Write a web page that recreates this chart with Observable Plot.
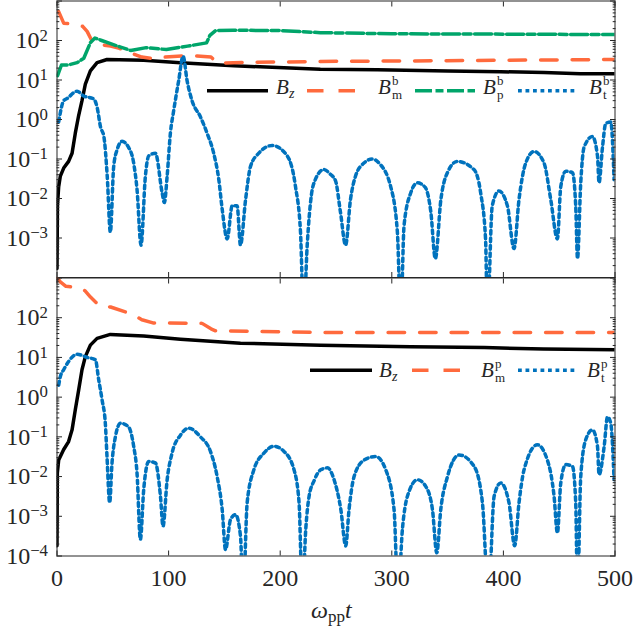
<!DOCTYPE html>
<html><head><meta charset="utf-8">
<script src="https://cdn.jsdelivr.net/npm/d3@7"></script>
<script src="https://cdn.jsdelivr.net/npm/@observablehq/plot@0.6"></script>
<style>
body{margin:0;background:#fff;}
#fig{position:relative;width:633px;height:629px;font-family:"Liberation Serif","Times New Roman",serif;}
#fig svg.panel{position:absolute;left:0;}
#fig svg text{font-family:"Liberation Serif","Times New Roman",serif;}
#overlay{position:absolute;left:0;top:0;pointer-events:none;}
</style></head><body><div id="fig"></div>
<script>
// ---------- data: top panel ----------
const tTopBz = [0, 0.4, 1.5, 3, 6, 10.4, 13.5, 16.4, 19.4, 22.4, 25.4, 29.9, 35.9, 44.8, 77.7, 110.6, 158.4, 236, 287, 350, 397.6, 436.4, 469, 500];
const topBz  = [1.7e-4, 6.5e-3, 0.020, 0.037, 0.059, 0.087, 0.14, 0.45, 1.26, 3.0, 7.9, 17, 27.5, 33, 31.6, 27.5, 22.9, 18.6, 18.2, 17.0, 16.2, 15.5, 14.5, 14.5];

const tTopBm = [1.5, 6, 18, 23, 27, 32, 39, 48, 56, 63, 69, 76, 84, 96, 112, 125.5, 138, 141, 144, 158, 236, 300, 400, 500];
const topBm  = [537, 275, 251, 229, 170, 89, 79, 72, 63, 54, 45, 38, 35.5, 38, 40.7, 40.7, 38, 31.6, 26.3, 27.5, 29.5, 30.2, 31.6, 33.1];

const tTopBp = [0.5, 4, 10, 18, 24, 30, 34, 40, 48, 57, 66, 80, 98, 117, 134, 137, 142, 158, 200, 236, 300, 400, 500];
const topBp  = [12.9, 24, 24, 27.5, 35.5, 89, 115, 100, 83, 68, 56, 66, 59, 72, 87, 135, 178, 182, 178, 158, 148, 145, 141];

const tTopBt = [1.5, 6, 9, 18, 23.6, 33, 36, 39, 42, 45, 47.8, 50.8, 53.8, 58.3, 64, 68.7, 71.7, 75.3, 79.2, 82.2, 88.2, 94.2, 96.2, 98.7,
  101.6, 104.6, 109, 113, 116.6, 121, 128.5, 134.5, 140.4, 145, 148, 152.5, 157, 161.4, 164.4, 169, 173.4, 180.8, 192.8, 206.3, 213.7, 218.2,
  221, 224.2, 228, 231, 239, 245, 249.6, 254, 258.6, 263, 267.5, 275, 282.5, 288.5, 299, 305, 308, 311, 317, 323, 330, 335, 339, 344, 349.8,
  358.7, 373.6, 379.6, 384, 385.7, 390, 396, 403.6, 409.5, 414, 420, 427.5, 436.4, 442.4, 448.4, 451.4, 455.9, 461.9, 464.8, 466.4, 469.3,
  472.3, 479.8, 484.3, 485.7, 488.8, 491.7, 496.2, 499.2];
const topBt  = [0.87, 3.0, 3.4, 5.2, 4.0, 3.3, 2.0, 0.65, 0.37, 0.037, 1.4e-3, 0.065, 0.17, 0.28, 0.20, 0.079, 0.017, 6.6e-4, 0.037, 0.12, 0.14, 0.014, 7.9e-3, 0.037,
  0.45, 1.7, 9.5, 40, 9.5, 3.0, 1.17, 0.45, 0.14, 0.030, 5.4e-3, 9.5e-4, 6.6e-3, 6.6e-3, 6.6e-4, 9.5e-3, 0.065, 0.14, 0.22, 0.12, 0.020, 1.4e-3,
  1e-5, 6.6e-4, 0.0126, 0.028, 0.054, 0.041, 0.028, 4.5e-3, 6.6e-4, 9.5e-3, 0.037, 0.079, 0.10, 0.079, 0.020, 1.4e-3, 1e-5, 2.1e-3, 0.014, 0.025, 0.019, 4.5e-3, 3.0e-4, 9.5e-3, 0.045,
  0.087, 0.054, 0.014, 9.5e-4, 1e-5, 6.5e-3, 0.0155, 6.5e-3, 5.4e-4, 9.5e-3, 0.079, 0.155, 0.079, 9.5e-3, 9.5e-4, 0.020, 0.049, 0.045, 6.5e-3, 3.0e-4, 0.025,
  0.20, 0.37, 0.12, 0.025, 0.20, 0.79, 0.87, 0.030];

// ---------- data: bottom panel ----------
const tBotBz = [0, 0.3, 1.5, 6, 10.4, 13.5, 16.4, 19.4, 22.4, 25.4, 29.9, 35.9, 47.8, 77.7, 110.6, 164.4, 236, 317, 383, 436, 500];
const botBz  = [1.8e-4, 0.0123, 0.026, 0.048, 0.076, 0.15, 0.48, 1.5, 4.9, 10.5, 20.4, 30.2, 38, 34.7, 28.8, 22.9, 20.4, 18.6, 17.8, 16.2, 15.5];

const tBotBm = [0.5, 3, 8, 20, 25, 30, 38, 48, 62, 70, 76, 86, 130, 138, 142, 236, 500];
const botBm  = [1000, 794, 617, 575, 479, 331, 200, 186, 138, 112, 89, 74, 72, 52.5, 46.8, 42.7, 42.7];

const tBotBt = [1.5, 3, 6, 10.4, 18, 27, 34.4, 37.4, 40.4, 43.3, 44.8, 47.2, 49.3, 52.3, 56.8, 64, 68.7, 71.7, 74.7, 77.7, 82.2, 88.2, 92.7, 95,
  98.7, 103.1, 110.6, 118, 128.5, 137.5, 143.5, 148, 151, 155.5, 160, 164.4, 166.8, 170.4, 176.4, 185.4, 194.4, 203.4, 212.4, 216.9, 219.9,
  222.9, 225.9, 230.4, 236.3, 242.3, 248.3, 254.3, 258.7, 261.7, 266.2, 275.2, 285.6, 294.6, 302, 305.6, 309.5, 314, 323, 330.5, 336.4, 340.3,
  343.9, 349.9, 360.3, 373.8, 381.2, 386.6, 391.7, 397.6, 405, 410.1, 414, 418.5, 430.4, 439.4, 445.4, 448.4, 451.4, 455.9, 461.9, 464.8, 466.4,
  469.3, 473.8, 479.8, 484.3, 485.7, 490.3, 493.3, 496.2, 499.2];
const botBt  = [2.0, 3.3, 4.9, 7.9, 12, 10, 8.7, 2.7, 0.85, 0.22, 0.032, 2.2e-3, 0.022, 0.10, 0.22, 0.18, 0.058, 0.0123, 2.6e-4, 4.7e-3, 0.024, 0.022, 3.2e-3, 5.6e-4,
  8.3e-3, 0.039, 0.11, 0.166, 0.10, 0.043, 0.01, 1.5e-3, 1.45e-4, 8.3e-4, 1.1e-3, 3.2e-4, 1e-5, 2.2e-3, 0.0148, 0.039, 0.058, 0.043, 0.0148, 2.2e-3, 1e-5,
  4.7e-4, 3.2e-3, 7.9e-3, 0.0148, 0.0166, 8.3e-3, 1.5e-3, 1.8e-4, 1.5e-3, 0.01, 0.026, 0.032, 0.0148, 1.5e-3, 1e-5, 4.7e-4, 3.2e-3, 8.3e-3, 5.6e-3, 1.5e-3, 1.2e-4,
  1.5e-3, 0.01, 0.035, 0.018, 2.2e-3, 1e-5, 3.2e-3, 6.9e-3, 2.2e-3, 1.8e-4, 2.2e-3, 0.0148, 0.063, 0.026, 3.2e-3, 3.8e-4, 6.9e-3, 0.02, 0.018, 2.2e-3, 1e-5,
  0.01, 0.085, 0.15, 0.058, 0.0112, 0.058, 0.32, 0.22, 8.3e-3];

// ---------- ticks ----------
const xTicks = [0, 100, 200, 300, 400, 500];
const yMajor = [1e-4, 1e-3, 1e-2, 1e-1, 1, 10, 100, 1000];
const yLabelsTop = [1e-3, 1e-2, 1e-1, 1, 10, 100];
const yLabelsBot = [1e-4, 1e-3, 1e-2, 1e-1, 1, 10, 100];
const yMinor = [];
for (let e = -4; e < 3; e++) for (let k = 2; k <= 9; k++) yMinor.push(k * Math.pow(10, e));

// ---------- styles ----------
const INK = "#262626";
const FONT = "Liberation Serif, Times New Roman, serif";
const S = {
  bz: {color: "#000000", width: 3.5, dash: null},
  bm: {color: "#FF6A3D", width: 3.5, dash: "16.5,15"},
  bp: {color: "#00A56A", width: 3.5, dash: "17,3.5,8,3.5"},
  bt: {color: "#0072BD", width: 3.5, dash: "3.8,3.7"}
};

function panel(o) {
  const marks = [];
  for (const s of o.series) {
    marks.push(Plot.line(d3.zip(s.t, s.v), {
      stroke: s.st.color, strokeWidth: s.st.width, strokeDasharray: s.st.dash,
      curve: s.curve || "linear", clip: true
    }));
  }
  marks.push(Plot.frame({stroke: INK, strokeWidth: 1}));
  for (const a of ["left", "right"]) {
    marks.push(Plot.axisY({anchor: a, ticks: yMajor, tickSize: -5.5, tickFormat: () => "", label: null}));
    marks.push(Plot.axisY({anchor: a, ticks: yMinor, tickSize: -2.8, tickFormat: () => "", label: null}));
  }
  for (const a of ["top", "bottom"]) {
    marks.push(Plot.axisX({anchor: a, ticks: xTicks, tickSize: -5, tickFormat: () => "", label: null}));
  }
  marks.push(Plot.axisY({anchor: "left", ticks: o.yLabels, tickSize: 0, tickPadding: 9,
    tickFormat: d => String(Math.round(Math.log10(d))), label: null}));
  if (o.xLabels) {
    marks.push(Plot.axisX({anchor: "bottom", ticks: xTicks, tickSize: 0, tickPadding: 13,
      tickFormat: d => String(d), label: null}));
  }
  const svg = Plot.plot({
    width: 633, height: o.height,
    marginTop: o.marginTop, marginBottom: o.marginBottom, marginLeft: 56.5, marginRight: 18.5,
    x: {domain: [0, 500]},
    y: {type: "log", domain: [1e-4, 1e3]},
    style: {fontFamily: FONT, fontSize: "24px", color: INK, background: "transparent", overflow: "visible"},
    marks
  });
  // exponent formatting: 10^k
  d3.select(svg).selectAll('g[aria-label="y-axis tick label"] text').each(function () {
    const e = this.textContent;
    if (!e) return;
    const s = d3.select(this);
    s.text(null);
    s.append("tspan").text("10");
    s.append("tspan").attr("dy", "-0.45em").attr("font-size", "0.7em").text(e.replace("-", "\u2212"));
  });
  svg.classList.add("panel");
  svg.style.top = o.top + "px";
  return svg;
}

const fig = document.getElementById("fig");
fig.appendChild(panel({
  top: 0, height: 278, marginTop: 0.5, marginBottom: 1, yLabels: yLabelsTop, xLabels: false,
  series: [
    {t: tTopBz, v: topBz, st: S.bz},
    {t: tTopBm, v: topBm, st: S.bm},
    {t: tTopBp, v: topBp, st: S.bp},
    {t: tTopBt, v: topBt, st: S.bt, curve: "monotone-x"}
  ]
}));
fig.appendChild(panel({
  top: 277, height: 352, marginTop: 0.5, marginBottom: 73.5, yLabels: yLabelsBot, xLabels: true,
  series: [
    {t: tBotBz, v: botBz, st: S.bz},
    {t: tBotBm, v: botBm, st: S.bm},
    {t: tBotBt, v: botBt, st: S.bt, curve: "monotone-x"}
  ]
}));

// ---------- legends & x label ----------
const ov = d3.select(fig).append("svg").attr("id", "overlay").attr("width", 633).attr("height", 629)
  .attr("font-family", FONT).attr("fill", INK);

function legLine(x1, x2, y, st) {
  ov.append("line").attr("x1", x1).attr("x2", x2).attr("y1", y).attr("y2", y)
    .attr("stroke", st.color).attr("stroke-width", st.width).attr("stroke-dasharray", st.dash);
}
function legText(x, y, sub, sup) {
  ov.append("text").attr("x", x).attr("y", y).attr("font-size", 21).attr("font-style", "italic").text("B");
  if (sup) {
    ov.append("text").attr("x", x + 14).attr("y", y - 9).attr("font-size", 13).text(sup);
    ov.append("text").attr("x", x + 14).attr("y", y + 5).attr("font-size", 13).text(sub);
  } else {
    ov.append("text").attr("x", x + 13).attr("y", y + 4).attr("font-size", 14).attr("font-style", "italic").text(sub);
  }
}
const legTop = [
  {x1: 207, x2: 268, tx: 276, sub: "z", sup: null, st: S.bz},
  {x1: 307, x2: 370, tx: 378, sub: "m", sup: "b", st: S.bm},
  {x1: 415, x2: 475, tx: 483, sub: "p", sup: "b", st: S.bp},
  {x1: 518, x2: 578, tx: 589, sub: "t", sup: "b", st: S.bt}
];
const legBot = [
  {x1: 310, x2: 372, tx: 379, sub: "z", sup: null, st: S.bz},
  {x1: 412, x2: 460, tx: 481, sub: "m", sup: "p", st: S.bm},
  {x1: 518, x2: 578, tx: 587, sub: "t", sup: "p", st: S.bt}
];
for (const l of legTop) { legLine(l.x1, l.x2, 90.7, l.st); legText(l.tx, 94, l.sub, l.sup); }
for (const l of legBot) { legLine(l.x1, l.x2, 370.3, l.st); legText(l.tx, 377, l.sub, l.sup); }

const xl = ov.append("text").attr("x", 311).attr("y", 618).attr("font-size", 24);
xl.append("tspan").attr("font-style", "italic").text("\u03C9");
xl.append("tspan").attr("dy", 4).attr("font-size", 17).text("pp");
xl.append("tspan").attr("dy", -4).attr("font-style", "italic").text("t");
</script></body></html>
